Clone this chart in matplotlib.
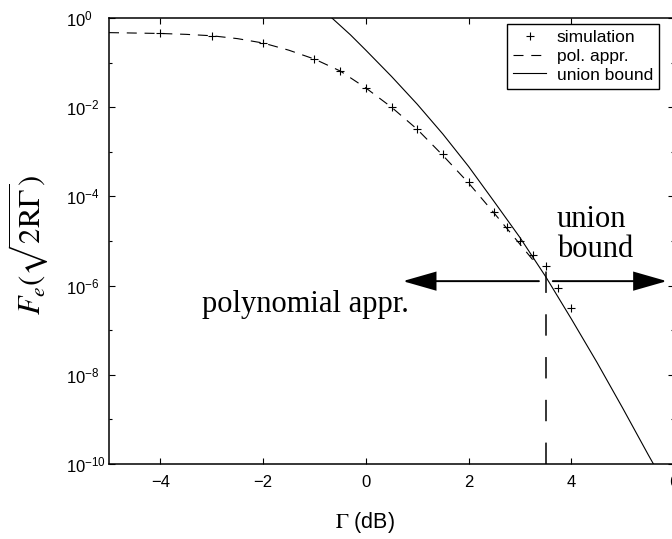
import numpy as np
import matplotlib
matplotlib.use("Agg")
import matplotlib.pyplot as plt
from matplotlib.patches import FancyArrowPatch
from matplotlib.ticker import FixedLocator, NullFormatter

plt.rcParams['font.family'] = ['Liberation Sans', 'DejaVu Sans']

# simulated points
sim_x = [-4, -3, -2, -1, -0.5, 0, 0.5, 1, 1.5, 2, 2.5, 2.75, 3, 3.25, 3.5, 3.75, 4]
sim_y = [0.45, 0.395, 0.27, 0.119, 0.064, 0.027, 0.0101, 0.0032, 8.9e-4, 2.1e-4,
         4.4e-5, 2.1e-5, 1.0e-5, 4.9e-6, 2.7e-6, 9.0e-7, 3.1e-7]

# polynomial approximation
pol_x = [-5, -4.5, -4, -3.5, -3, -2.5, -2, -1.5, -1, -0.5, 0, 0.5, 1, 1.5, 2, 2.5, 3, 3.25]
pol_y = [0.47, 0.46, 0.45, 0.43, 0.40, 0.345, 0.275, 0.19, 0.12, 0.065, 0.027, 0.010,
         3.2e-3, 8.3e-4, 2.0e-4, 4.2e-5, 8.5e-6, 3.8e-6]

# union bound
ub_x = [-0.66, -0.3, 0, 0.5, 1.0, 1.5, 2.0, 2.5, 3.0, 3.5, 4.0, 4.5, 5.0, 5.5, 5.6]
ub_y = [1.0, 0.42, 0.19, 0.049, 0.0117, 2.5e-3, 4.7e-4, 7.6e-5, 1.2e-5, 1.6e-6,
        1.8e-7, 1.9e-8, 1.8e-9, 1.6e-10, 1.0e-10]

x_ticks = [-4, -2, 0, 2, 4, 6]
x_ticklabels = ['\u22124', '\u22122', '0', '2', '4', '6']
y_ticks = [1e0, 1e-2, 1e-4, 1e-6, 1e-8, 1e-10]
y_ticklabels = [r'$\mathdefault{10^{0}}$', r'$\mathdefault{10^{-2}}$', r'$\mathdefault{10^{-4}}$',
                r'$\mathdefault{10^{-6}}$', r'$\mathdefault{10^{-8}}$', r'$\mathdefault{10^{-10}}$']
y_minor = [1e-1, 1e-3, 1e-5, 1e-7, 1e-9]

switch_x = 3.5      # where the union bound takes over
arrow_y = 1.26e-6

fig = plt.figure(figsize=(6.72, 5.39), dpi=100)
ax = fig.add_axes([0.1622, 0.1391, 0.8408, 0.8275])

ax.plot(sim_x, sim_y, ls='none', marker='+', ms=6, mew=0.8, color='k', label='simulation')
ax.plot(pol_x, pol_y, ls=(0, (9, 7)), lw=0.8, color='k', label='pol. appr.')
ax.plot(ub_x, ub_y, ls='-', lw=0.8, color='k', label='union bound')

# vertical marker at the crossover
ax.plot([switch_x, switch_x], [1e-10, 4.2e-6], color='k', lw=1.1, ls=(0, (14, 14)))

# arrows to both sides
for x0, x1 in [(3.37, 0.72), (3.64, 5.86)]:
    arr = FancyArrowPatch((x0, arrow_y), (x1, arrow_y), arrowstyle='-|>,head_length=21,head_width=6',
                          mutation_scale=1, lw=1.4, color='k', shrinkA=0, shrinkB=0,
                          joinstyle='miter', clip_on=False)
    ax.add_patch(arr)

ax.text(-3.19, 2.6e-7, 'polynomial appr.', family='Liberation Serif', fontsize=22, va='baseline')
ax.text(3.72, 2.09e-5, 'union', family='Liberation Serif', fontsize=22, va='baseline')
ax.text(3.72, 4.37e-6, 'bound', family='Liberation Serif', fontsize=22, va='baseline')

ax.set_yscale('log')
ax.set_xlim(-5, 6)
ax.set_ylim(1e-10, 1e0)
ax.set_xticks(x_ticks, labels=x_ticklabels, fontsize=12)
ax.set_yticks(y_ticks, labels=y_ticklabels, fontsize=12, ha='left')
ax.yaxis.set_minor_locator(FixedLocator(y_minor))
ax.yaxis.set_minor_formatter(NullFormatter())
ax.tick_params(which='both', direction='in', top=True, right=True, width=0.8)
ax.tick_params(which='major', length=4.5)
ax.tick_params(which='minor', length=2.2)
ax.tick_params(axis='y', which='major', pad=31)
ax.tick_params(axis='x', which='major', pad=8)
for s in ax.spines.values():
    s.set_linewidth(1.1)

ax.set_xlabel(r'$\Gamma$ (dB)', fontsize=15.5, math_fontfamily='stix', va='center')
ax.xaxis.set_label_coords(0.453, -0.13)
ax.set_ylabel(r'$F_e(\sqrt{2\mathrm{R}\Gamma})$', fontsize=22, math_fontfamily='stix', va='center')
ax.yaxis.set_label_coords(-0.143, 0.491)

leg = ax.legend(loc='upper right', bbox_to_anchor=(0.9735, 0.9865), borderaxespad=0,
                fontsize=12.5, frameon=True, fancybox=False, edgecolor='k', framealpha=1,
                labelspacing=0.2, borderpad=0.35, handlelength=1.9, handletextpad=0.6)
leg.get_frame().set_linewidth(1.0)

fig.savefig('out.png', dpi=100)
